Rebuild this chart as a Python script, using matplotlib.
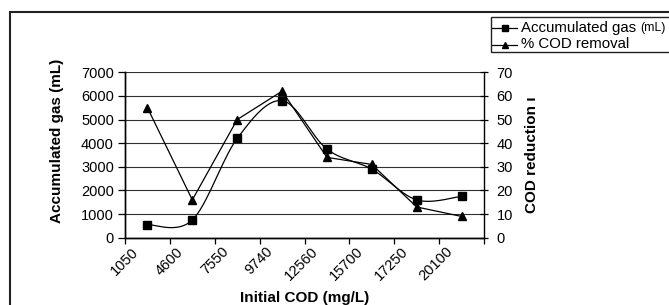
import numpy as np
import matplotlib
matplotlib.use("Agg")
import matplotlib.pyplot as plt
from matplotlib.lines import Line2D
from matplotlib.patches import Rectangle
from matplotlib.transforms import ScaledTranslation

plt.rcParams['font.family'] = ['Liberation Sans', 'DejaVu Sans']

# data
initial_cod = ['1050', '4600', '7550', '9740', '12560', '15700', '17250', '20100']
gas_ml = [550, 750, 4200, 5800, 3750, 2900, 1600, 1750]
cod_removal = [55, 16, 50, 62, 34, 31, 13, 9]

W, H = 669, 305


def fx(px):
    return px / W


def fy(py):
    return 1 - py / H


def smooth(x, y, n=30):
    # excel-like smoothed line (catmull-rom as bezier segments)
    x = np.asarray(x, float)
    y = np.asarray(y, float)
    px = np.concatenate([[x[0]], x, [x[-1]]])
    py = np.concatenate([[y[0]], y, [y[-1]]])
    t = np.linspace(0, 1, n)[:, None]
    out = []
    for i in range(1, len(px) - 2):
        p0 = np.array([px[i], py[i]])
        p3 = np.array([px[i + 1], py[i + 1]])
        p1 = p0 + (p3 - np.array([px[i - 1], py[i - 1]])) / 6
        p2 = p3 - (np.array([px[i + 2], py[i + 2]]) - p0) / 6
        seg = ((1 - t) ** 3 * p0 + 3 * (1 - t) ** 2 * t * p1
               + 3 * (1 - t) * t ** 2 * p2 + t ** 3 * p3)
        out.append(seg)
    out = np.vstack(out)
    return out[:, 0], out[:, 1]


fig = plt.figure(figsize=(W / 100, H / 100), dpi=100)
ax = fig.add_axes([fx(125), fy(237.7), (484 - 125) / W, (237.7 - 72.3) / H])
ax2 = ax.twinx()

x = np.arange(len(initial_cod))
sx, sy = smooth(x, gas_ml)
ax.plot(sx, sy, color='black', lw=0.9)
ax.plot(x, gas_ml, ls='none', marker='s', ms=5.2, color='black')
ax2.plot(x, cod_removal, color='black', lw=0.9, marker='^', ms=5.8)

ax.set_xlim(-0.5, len(initial_cod) - 0.5)
ax.set_ylim(0, 7000)
ax2.set_ylim(0, 70)
ax.set_yticks(range(0, 7001, 1000))
ax2.set_yticks(range(0, 71, 10))
ax.yaxis.grid(True, color='#303030', lw=0.8)
ax.set_axisbelow(True)

ax.set_xticks(np.arange(len(initial_cod) + 1) - 0.5)
ax.set_xticklabels([])
ax.set_xticks(x, minor=True)
ax.set_xticklabels(initial_cod, minor=True, rotation=45, ha='right', va='top', fontsize=10.5)
ax.tick_params(axis='x', which='minor', length=0, pad=5)
ax.tick_params(axis='x', which='major', length=4, width=0.9, direction='out')
off = ScaledTranslation(-6 / 100, 0, fig.dpi_scale_trans)
for lab in ax.get_xticklabels(minor=True):
    lab.set_transform(lab.get_transform() + off)

ax.tick_params(axis='y', length=5, width=0.9, direction='out', labelsize=10.5, pad=3)
ax2.tick_params(axis='y', length=6, width=0.9, direction='inout', labelsize=10.5, pad=6)

for a in (ax, ax2):
    a.spines['top'].set_visible(False)
    for s in ('left', 'right', 'bottom'):
        a.spines[s].set_linewidth(1.0)
ax.spines['right'].set_visible(False)

# axis titles
fig.text(fx(57), fy(141), 'Accumulated gas (mL)', rotation=90, ha='center', va='center',
         fontsize=11, fontweight='bold')
fig.text(fx(532), fy(155), 'COD reduction ı', rotation=90, ha='center', va='center',
         fontsize=11, fontweight='bold')
fig.text(fx(304.5), fy(298), 'Initial COD (mg/L)', ha='center', va='center',
         fontsize=11, fontweight='bold')

# outer chart border (cropped on right and bottom)
fig.add_artist(Rectangle((fx(10), fy(330)), fx(700) - fx(10), fy(12) - fy(330),
                         transform=fig.transFigure, fill=False, lw=1.5, ec='#222222'))

# legend, drawn by hand (it runs off the right edge)
fig.add_artist(Rectangle((fx(491), fy(51.7)), fx(720) - fx(491), fy(16.7) - fy(51.7),
                         transform=fig.transFigure, fill=False, lw=1.0, ec='#222222'))
rows = [(27.8, 's', 'Accumulated gas'), (44.5, '^', '% COD removal')]
texts = []
for ry, mk, lab in rows:
    fig.add_artist(Line2D([fx(492), fx(517)], [fy(ry), fy(ry)], transform=fig.transFigure,
                          color='black', lw=0.9))
    fig.add_artist(Line2D([fx(504.5)], [fy(ry)], transform=fig.transFigure,
                          color='black', marker=mk, ms=4.5, ls='none'))
    texts.append(fig.text(fx(521), fy(ry), lab, ha='left', va='center', fontsize=10.8))

# small "(mL)" right after the first legend entry
fig.canvas.draw()
bb = texts[0].get_window_extent()
fig.text((bb.x1 + 4) / W, fy(27.8), '(mL)', ha='left', va='center', fontsize=8.8)

fig.savefig('out.png', dpi=100)
